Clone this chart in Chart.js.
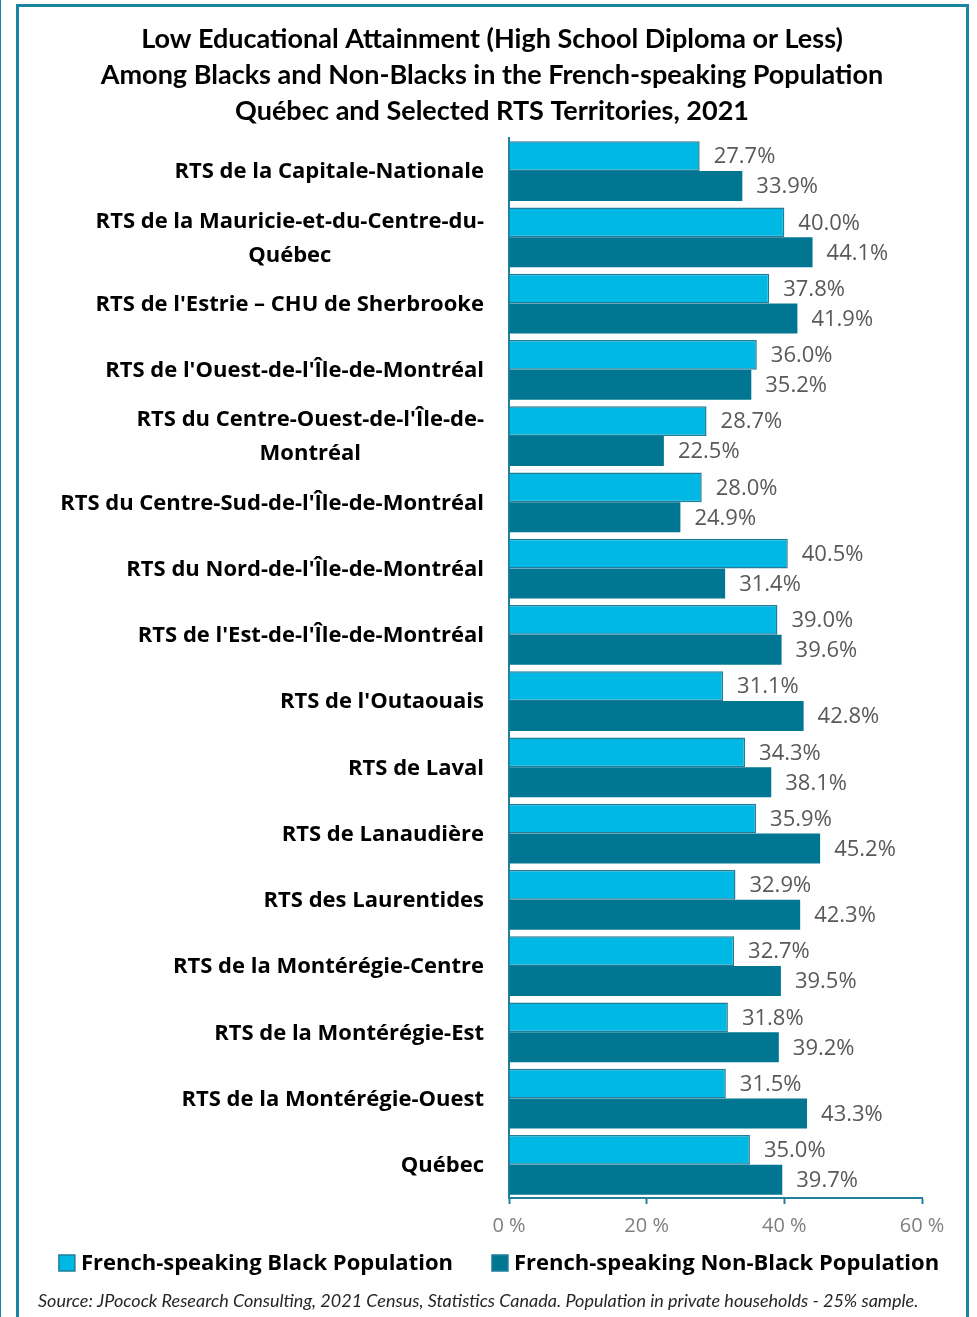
<!DOCTYPE html>
<html>
<head>
<meta charset="utf-8">
<script src="https://cdn.jsdelivr.net/npm/chart.js@4.4.0/dist/chart.umd.min.js"></script>
<style>
  html, body { margin: 0; padding: 0; background: #fff; overflow: hidden; }
  #wrap { position: relative; width: 977px; height: 1317px; }
  #frame { position: absolute; left: 16px; top: 4px; width: 953px; height: 1400px; border: 3px solid #1a85a1; box-sizing: border-box; }
  #edge { position: absolute; left: 0; top: 0; width: 1px; height: 1317px; background: #1a85a1; }
  canvas { position: absolute; left: 0; top: 0; }
</style>
</head>
<body>
<div id="wrap">
  <div id="frame"></div>
  <div id="edge"></div>
  <canvas id="myChart" width="977" height="1317"></canvas>
</div>
<script>
const categories = [
    'RTS de la Capitale-Nationale',
    ['RTS de la Mauricie-et-du-Centre-du-', 'Québec'],
    'RTS de l\'Estrie – CHU de Sherbrooke',
    'RTS de l\'Ouest-de-l\'Île-de-Montréal',
    ['RTS du Centre-Ouest-de-l\'Île-de-', 'Montréal'],
    'RTS du Centre-Sud-de-l\'Île-de-Montréal',
    'RTS du Nord-de-l\'Île-de-Montréal',
    'RTS de l\'Est-de-l\'Île-de-Montréal',
    'RTS de l\'Outaouais',
    'RTS de Laval',
    'RTS de Lanaudière',
    'RTS des Laurentides',
    'RTS de la Montérégie-Centre',
    'RTS de la Montérégie-Est',
    'RTS de la Montérégie-Ouest',
    'Québec',
];

const blackPop = [27.7, 40.0, 37.8, 36.0, 28.7, 28.0, 40.5, 39.0, 31.1, 34.3, 35.9, 32.9, 32.7, 31.8, 31.5, 35.0];
const nonBlackPop = [33.9, 44.1, 41.9, 35.2, 22.5, 24.9, 31.4, 39.6, 42.8, 38.1, 45.2, 42.3, 39.5, 39.2, 43.3, 39.7];
const xTicks = [0, 20, 40, 60];

const seriesNames = ['French-speaking Black Population', 'French-speaking Non-Black Population'];
const sourceNote = 'Source: JPocock Research Consulting, 2021 Census, Statistics Canada. Population in private households - 25% sample.';

const teal = '#1f7f9c';

// value labels at the end of each bar
const valueLabels = {
    id: 'valueLabels',
    afterDatasetsDraw(chart) {
        const ctx = chart.ctx;
        ctx.save();
        ctx.font = '22px "Open Sans"';
        ctx.fillStyle = '#595959';
        ctx.textAlign = 'left';
        ctx.textBaseline = 'middle';
        chart.data.datasets.forEach((ds, di) => {
            chart.getDatasetMeta(di).data.forEach((bar, i) => {
                ctx.fillText(ds.data[i].toFixed(1) + '%', bar.x + 14, bar.y + 1);
            });
        });
        ctx.restore();
    }
};

// category labels: block right aligned, lines centred inside the block
const categoryLabels = {
    id: 'categoryLabels',
    afterDraw(chart) {
        const ctx = chart.ctx;
        const yScale = chart.scales.y;
        const right = chart.chartArea.left - 25;
        ctx.save();
        ctx.font = 'bold 22px "Open Sans"';
        ctx.fillStyle = '#000';
        ctx.textAlign = 'center';
        ctx.textBaseline = 'middle';
        categories.forEach((label, i) => {
            const lines = Array.isArray(label) ? label : [label];
            const w = Math.max(...lines.map(l => ctx.measureText(l).width));
            const cy = yScale.getPixelForValue(i);
            lines.forEach((line, j) => {
                ctx.fillText(line, right - w / 2, cy + 1 + (j - (lines.length - 1) / 2) * 34);
            });
        });
        ctx.restore();
    }
};

// legend + source note under the axis
const bottomText = {
    id: 'bottomText',
    afterDraw(chart) {
        const ctx = chart.ctx;
        ctx.save();
        ctx.font = 'bold 22px "Open Sans"';
        ctx.textBaseline = 'middle';
        ctx.textAlign = 'left';
        const box = 16, gapText = 6, gapItem = 39;
        const widths = chart.data.datasets.map(ds => ctx.measureText(ds.label).width);
        const total = widths.reduce((a, w) => a + box + gapText + w, 0) + gapItem;
        let x = 499 - total / 2;
        const y = 1263;
        chart.data.datasets.forEach((ds, i) => {
            ctx.fillStyle = ds.backgroundColor;
            ctx.fillRect(x, y - box / 2, box, box);
            ctx.strokeStyle = teal;
            ctx.lineWidth = 1.5;
            ctx.strokeRect(x, y - box / 2, box, box);
            ctx.fillStyle = '#000';
            ctx.fillText(ds.label, x + box + gapText, y + 1);
            x += box + gapText + widths[i] + gapItem;
        });
        ctx.font = 'italic 18px Lato';
        ctx.fillStyle = '#262626';
        ctx.fillText(sourceNote, 38, 1301);
        ctx.restore();
    }
};

const data = {
    labels: categories,
    datasets: [{
        label: seriesNames[0],
        data: blackPop,
        backgroundColor: '#00b8e4',
        borderColor: '#237c96',
        borderWidth: 1.5,
    }, {
        label: seriesNames[1],
        data: nonBlackPop,
        backgroundColor: '#007692',
        borderColor: '#007692',
        borderWidth: 0,
    }]
};

const config = {
    type: 'bar',
    data: data,
    plugins: [valueLabels, categoryLabels, bottomText],
    options: {
        indexAxis: 'y',
        responsive: false,
        animation: false,
        categoryPercentage: 0.9,
        barPercentage: 1.0,
        layout: { padding: { left: 17, right: 10, top: 0, bottom: 81 } },
        plugins: {
            legend: { display: false },
            tooltip: { enabled: false },
            title: {
                display: true,
                text: [
                    'Low Educational Attainment (High School Diploma or Less)',
                    'Among Blacks and Non-Blacks in the French-speaking Population',
                    'Québec and Selected RTS Territories, 2021'
                ],
                color: '#000',
                font: { family: 'Lato', size: 27, weight: 'bold', lineHeight: 1.333 },
                padding: { top: 21, bottom: 9 }
            }
        },
        scales: {
            x: {
                min: xTicks[0],
                max: xTicks[xTicks.length - 1],
                afterBuildTicks: s => { s.ticks = xTicks.map(v => ({ value: v })); },
                afterFit: s => { s.height = 38; },
                ticks: {
                    callback: v => v + ' %',
                    color: '#7f7f7f',
                    font: { family: 'Open Sans', size: 20 },
                    padding: 10,
                    maxRotation: 0
                },
                grid: { display: true, drawOnChartArea: false, drawTicks: true, tickLength: 6, color: teal, tickWidth: 2 },
                border: { display: true, color: teal, width: 2 }
            },
            y: {
                afterFit: s => { s.width = 492; },
                ticks: { display: false },
                grid: { display: false },
                border: { display: true, color: teal, width: 2 }
            },
            yRight: {
                axis: 'y',
                type: 'linear',
                position: 'right',
                display: true,
                afterFit: s => { s.width = 45; },
                ticks: { display: false },
                grid: { display: false },
                border: { display: false }
            }
        }
    }
};

const myChart = new Chart(document.getElementById('myChart'), config);
</script>
</body>
</html>
